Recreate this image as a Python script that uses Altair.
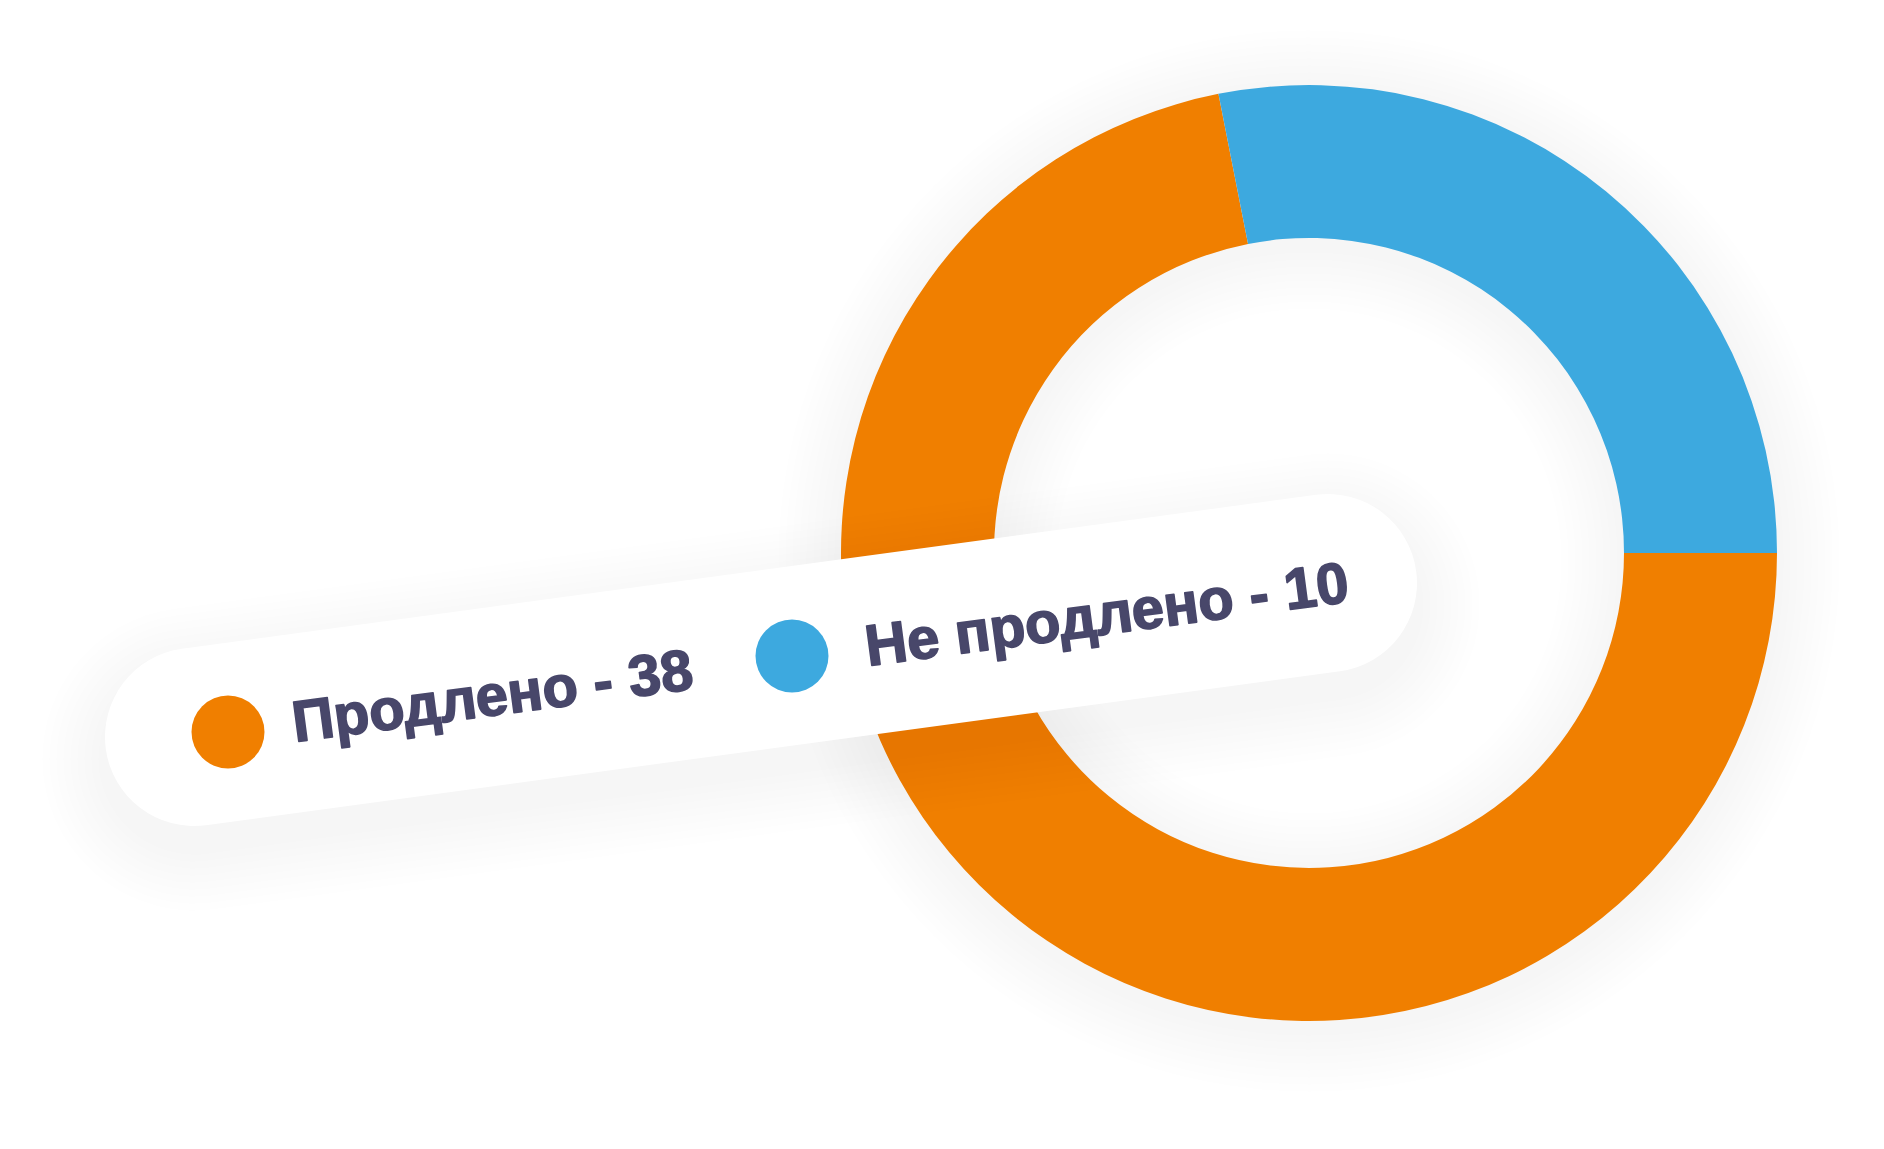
import math
import altair as alt
import pandas as pd

# ---- data ----
categories = ["Продлено", "Не продлено"]
counts = [38, 10]
slice_share = [0.719, 0.281]          # share of the ring each slice covers in the picture
colors = ["#F07F00", "#3DA9DF"]
labels = [f"{c} - {n}" for c, n in zip(categories, counts)]

# ---- layout / style ----
W, H = 1884, 1149
CX, CY = 1309, 553
R_OUT, R_IN = 468, 315
START = math.pi / 2
TEXT_COLOR = "#48476A"
PILL_A = (194, 737)
PILL_B = (1328, 583)
PILL_W = 178
DOT_POS = [(228, 732), (792, 656)]
TEXT_POS = [(295, 742), (868, 666)]
TEXT_ANGLE = 352.4
SHADOW_COLOR = "#000000"
SHADOW_OP = 0.0045
N_SHADOW = 9
STEP = 7

one = pd.DataFrame({"k": [0]})
ring_df = pd.DataFrame({"cat": categories, "share": slice_share, "ord": list(range(len(categories)))})

layers = []

# soft shadow of the ring
for i in range(1, N_SHADOW + 1):
    layers.append(
        alt.Chart(one).mark_arc(
            theta=0, theta2=2 * math.pi,
            innerRadius=R_IN - STEP * i, outerRadius=R_OUT + STEP * i,
            color=SHADOW_COLOR, opacity=SHADOW_OP,
        ).encode(x=alt.value(CX), y=alt.value(CY + 8))
    )

# the ring
layers.append(
    alt.Chart(ring_df).mark_arc(innerRadius=R_IN, outerRadius=R_OUT).encode(
        theta=alt.Theta("share:Q", stack=True,
                        scale=alt.Scale(domain=[0, 1], range=[START, START + 2 * math.pi])),
        order=alt.Order("ord:Q"),
        color=alt.Color("cat:N", scale=alt.Scale(domain=categories, range=colors), legend=None),
        x=alt.value(CX), y=alt.value(CY),
    )
)

# shadow of the legend pill
for i in range(1, N_SHADOW + 1):
    layers.append(
        alt.Chart(one).mark_rule(
            strokeWidth=PILL_W + 2 * STEP * i, strokeCap="round",
            color=SHADOW_COLOR, opacity=SHADOW_OP,
        ).encode(
            x=alt.value(PILL_A[0]), y=alt.value(PILL_A[1] + 22),
            x2=alt.value(PILL_B[0]), y2=alt.value(PILL_B[1] + 22),
        )
    )

# the legend pill
layers.append(
    alt.Chart(one).mark_rule(strokeWidth=PILL_W, strokeCap="round", color="#FFFFFF", opacity=1).encode(
        x=alt.value(PILL_A[0]), y=alt.value(PILL_A[1]),
        x2=alt.value(PILL_B[0]), y2=alt.value(PILL_B[1]),
    )
)

# legend dots and labels
for i in range(len(categories)):
    item = pd.DataFrame({"label": [labels[i]]})
    layers.append(
        alt.Chart(item).mark_circle(size=73 ** 2, opacity=1, color=colors[i]).encode(
            x=alt.value(DOT_POS[i][0]), y=alt.value(DOT_POS[i][1])
        )
    )
    layers.append(
        alt.Chart(item).mark_text(
            align="left", baseline="alphabetic", angle=TEXT_ANGLE,
            font="Liberation Sans", fontWeight="bold", fontSize=58, color=TEXT_COLOR,
            stroke=TEXT_COLOR, strokeWidth=1.6, strokeJoin="round",
        ).encode(
            x=alt.value(TEXT_POS[i][0]), y=alt.value(TEXT_POS[i][1]), text="label:N"
        )
    )

chart = alt.layer(*layers).properties(
    width=W, height=H,
    autosize=alt.AutoSizeParams(type="none"),
    padding=0,
    background="#FFFFFF",
).configure_view(stroke=None)

chart.save("out.html", embed_options={"renderer": "svg", "actions": False})
